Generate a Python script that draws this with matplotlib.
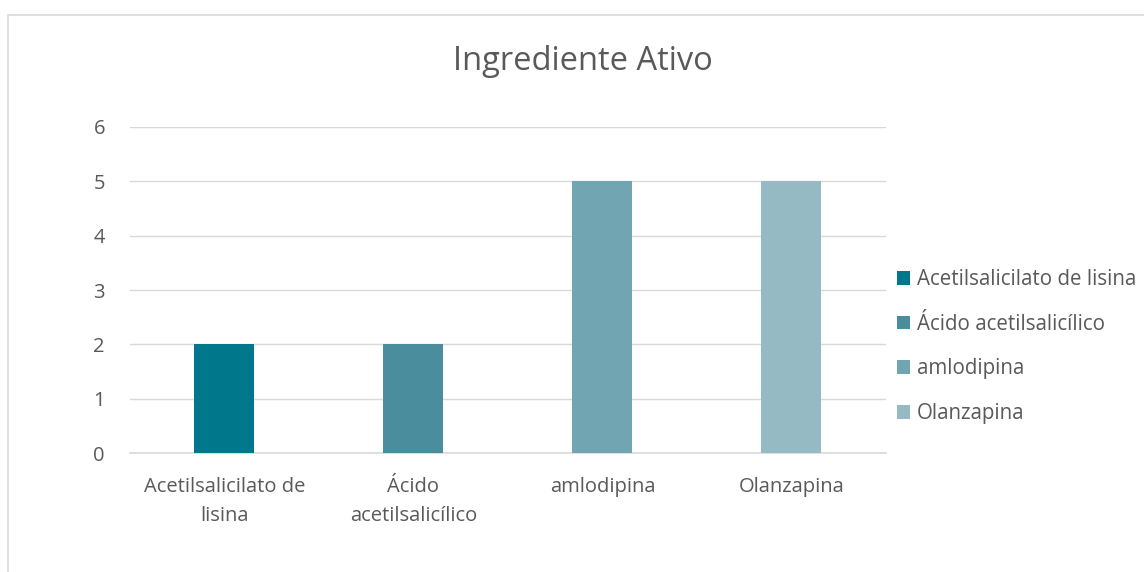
import matplotlib.pyplot as plt
from matplotlib.patches import Rectangle

# Dados do gráfico
categorias = ["Acetilsalicilato de lisina", "Ácido acetilsalicílico", "amlodipina", "Olanzapina"]
rotulos_x = ["Acetilsalicilato de\nlisina", "Ácido\nacetilsalicílico", "amlodipina", "Olanzapina"]
valores = [2, 2, 5, 5]
cores = ["#00778B", "#4A8D9C", "#71A5B2", "#95BAC3"]
ticks_y = [0, 1, 2, 3, 4, 5, 6]

plt.rcParams['font.family'] = ['Open Sans', 'DejaVu Sans']
texto = "#595959"

fig = plt.figure(figsize=(11.44, 5.72), dpi=100)
ax = fig.add_axes([0.1136, 0.208, 0.6608, 0.570])

# Moldura do gráfico
fig.patches.append(Rectangle((8 / 1144, -0.1), 1.2, (572 - 15) / 572 + 0.1,
                             transform=fig.transFigure, fill=False,
                             edgecolor="#D9D9D9", linewidth=1.2))

for i, (cat, v, c) in enumerate(zip(categorias, valores, cores)):
    ax.bar(i, v, width=0.317, color=c, label=cat, zorder=3)

ax.set_xlim(-0.5, len(categorias) - 0.5)
ax.set_ylim(0, 6)
ax.set_yticks(ticks_y)
ax.set_xticks(range(len(categorias)))
ax.set_xticklabels(rotulos_x, fontsize=14.5, color=texto, linespacing=1.65)
ax.tick_params(axis='y', labelsize=14.5, labelcolor=texto, length=0, pad=18)
ax.tick_params(axis='x', length=0, pad=17)
ax.grid(axis='y', color="#D9D9D9", linewidth=1, zorder=0)
for s in ['top', 'right', 'left']:
    ax.spines[s].set_visible(False)
ax.spines['bottom'].set_color("#D9D9D9")
ax.spines['bottom'].set_linewidth(1.2)

fig.text(583 / 1144, 1 - 62 / 572, "Ingrediente Ativo", ha='center', va='center',
         fontsize=23.5, color=texto)

leg = fig.legend(loc='upper left', bbox_to_anchor=(897 / 1144, 1 - 269 / 572), frameon=False,
                 fontsize=14.8, labelcolor=texto, handlelength=0.65, handleheight=0.65,
                 handletextpad=0.3, labelspacing=1.15, borderpad=0, borderaxespad=0)

fig.savefig("out.png", dpi=100)
